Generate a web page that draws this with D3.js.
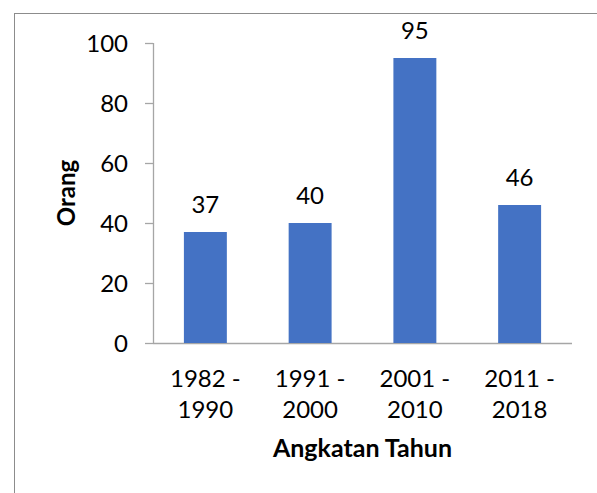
<!DOCTYPE html>
<html>
<head>
<meta charset="utf-8">
<script src="https://cdn.jsdelivr.net/npm/d3@7"></script>
<style>
  body { margin: 0; background: #fff; }
  text { font-family: Lato, "Open Sans", sans-serif; fill: #000; }
</style>
</head>
<body>
<svg id="chart" width="597" height="493"></svg>
<script>
// data
const categories = [["1982 -", "1990"], ["1991 -", "2000"], ["2001 -", "2010"], ["2011 -", "2018"]];
const values = [37, 40, 95, 46];
const yTicks = [0, 20, 40, 60, 80, 100];

const svg = d3.select("#chart");

// frame around the chart (runs off right and bottom)
svg.append("rect")
  .attr("x", 14.5).attr("y", 13.5)
  .attr("width", 620).attr("height", 520)
  .attr("fill", "none")
  .attr("stroke", "#8c8c8c")
  .attr("stroke-width", 1);

const margin = {top: 43, left: 153, right: 25, bottom: 150};
const width = 572 - margin.left;
const height = 343 - margin.top;

const g = svg.append("g")
  .attr("transform", "translate(" + margin.left + "," + margin.top + ")");

const x = d3.scaleBand()
  .domain(categories.map(d => d.join(" ")))
  .range([0, width])
  .paddingInner(0.59)
  .paddingOuter(0.295);

const y = d3.scaleLinear()
  .domain([0, 100])
  .range([height, 0]);

// y axis
const yAxis = g.append("g")
  .call(d3.axisLeft(y).tickValues(yTicks).tickSize(8).tickPadding(17));
yAxis.selectAll("line, path").attr("stroke", "#a6a6a6").attr("stroke-width", 1.3);
yAxis.select(".domain").attr("d", "M0.5," + height + "V0");
yAxis.selectAll("text").attr("font-size", 24).attr("font-family", "Lato").attr("dy", "0.36em");

// x axis line
g.append("line")
  .attr("x1", 0).attr("x2", width)
  .attr("y1", height + 0.5).attr("y2", height + 0.5)
  .attr("stroke", "#a6a6a6").attr("stroke-width", 1.3);

// bars
g.selectAll(".bar")
  .data(values)
  .join("rect")
  .attr("class", "bar")
  .attr("x", (d, i) => x(categories[i].join(" ")))
  .attr("y", d => y(d))
  .attr("width", x.bandwidth())
  .attr("height", d => height - y(d))
  .attr("fill", "#4472c4");

// data labels
g.selectAll(".lbl")
  .data(values)
  .join("text")
  .attr("class", "lbl")
  .attr("x", (d, i) => x(categories[i].join(" ")) + x.bandwidth() / 2)
  .attr("y", d => y(d) - 19)
  .attr("text-anchor", "middle")
  .attr("font-size", 24)
  .text(d => d);

// category labels, two lines each
const cat = g.selectAll(".cat")
  .data(categories)
  .join("text")
  .attr("class", "cat")
  .attr("text-anchor", "middle")
  .attr("font-size", 24)
  .attr("transform", d => "translate(" + (x(d.join(" ")) + x.bandwidth() / 2) + "," + (height + 44) + ")");
cat.selectAll("tspan")
  .data(d => d)
  .join("tspan")
  .attr("x", 0)
  .attr("y", (d, i) => i * 31)
  .text(d => d);

// axis titles
g.append("text")
  .attr("x", width / 2)
  .attr("y", height + 114)
  .attr("text-anchor", "middle")
  .attr("font-size", 25)
  .attr("font-weight", "bold")
  .text("Angkatan Tahun");

g.append("text")
  .attr("transform", "translate(" + (-78) + "," + (height / 2) + ") rotate(-90)")
  .attr("text-anchor", "middle")
  .attr("font-size", 24)
  .attr("font-weight", "bold")
  .text("Orang");
</script>
</body>
</html>
